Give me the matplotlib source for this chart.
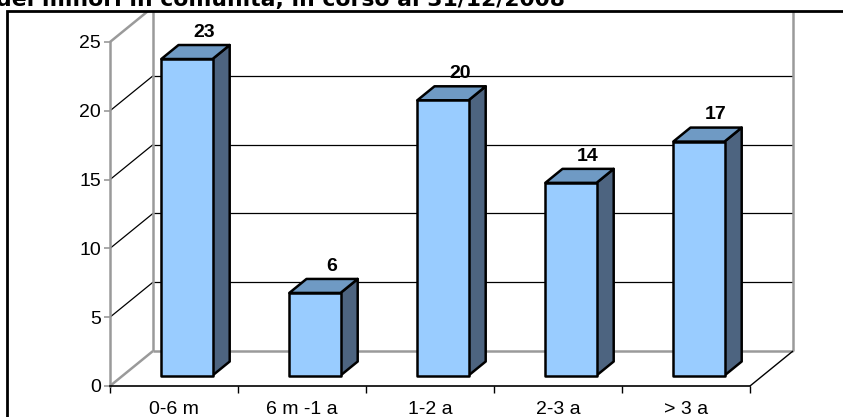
import numpy as np
import matplotlib.pyplot as plt
from matplotlib.patches import Polygon, Rectangle

plt.rcParams.update({
    "font.family": ["Liberation Sans", "DejaVu Sans"],
    "font.size": 14,
})

categories = ["0-6 m", "6 m -1 a", "1-2 a", "2-3 a", "> 3 a"]
values = [23, 6, 20, 14, 17]
yticks = [0, 5, 10, 15, 20, 25]
title = "dei minori in comunità, in corso al 31/12/2008"

col_front = "#99ccff"
col_top = "#6f9ac4"
col_side = "#4d6480"
col_wall = "#9a9a9a"

W, H = 843, 417
fig = plt.figure(figsize=(W / 100, H / 100), dpi=100)
ax = fig.add_axes([110 / W, 31 / H, 640 / W, 344 / H])
ax.set_xlim(0, len(categories))
ax.set_ylim(0, 25)

# oblique depth of the pseudo-3d box, in data units
DX = 43 / 128
DY = 35 / (344 / 25)
f0, f1 = 0.3, 0.7
half = 0.2

def off(x, y, f):
    return (x + f * DX, y + f * DY)

# frame round the whole chart (right and bottom fall outside), also used as clip
frame = Rectangle((7 / W, -0.1), 1.2, 1.1 - 11 / H, transform=fig.transFigure,
                  fill=False, ec="black", lw=2)
fig.add_artist(frame)

def line(xs, ys, **kw):
    ln, = ax.plot(xs, ys, clip_on=True, solid_capstyle="butt", **kw)
    ln.set_clip_path(frame)
    return ln

n = len(categories)
# back wall and side wall
for v in yticks[1:-1]:
    line([DX, n + DX], [v + DY, v + DY], color="black", lw=0.9, zorder=1)
    line([0, DX], [v, v + DY], color="black", lw=0.9, zorder=1)
line([DX, n + DX], [DY, DY], color=col_wall, lw=1.8, zorder=1)
line([0, DX], [0, DY], color=col_wall, lw=1.8, zorder=1)
line([0, DX], [25, 25 + DY], color=col_wall, lw=1.8, zorder=1)
line([DX, DX], [DY, 25 + DY], color=col_wall, lw=1.8, zorder=1)
line([n + DX, n + DX], [DY, 25 + DY], color=col_wall, lw=1.8, zorder=1)
line([n, n + DX], [0, DY], color="black", lw=1.0, zorder=1)

# bars
for i, v in enumerate(values):
    c = i + 0.5
    l, r = c - half, c + half
    front = [off(l, 0, f0), off(r, 0, f0), off(r, v, f0), off(l, v, f0)]
    top = [off(l, v, f0), off(r, v, f0), off(r, v, f1), off(l, v, f1)]
    side = [off(r, 0, f0), off(r, 0, f1), off(r, v, f1), off(r, v, f0)]
    for pts, fc in [(side, col_side), (top, col_top), (front, col_front)]:
        ax.add_patch(Polygon(pts, closed=True, fc=fc, ec="black", lw=1.8,
                             joinstyle="round", zorder=3, clip_on=False))
    lx, ly = off(c, v, f1)
    ax.annotate(str(v), (lx, ly), xytext=(0, 3), textcoords="offset points",
                ha="center", va="bottom", fontweight="bold", fontsize=14,
                annotation_clip=False, zorder=4)

# axes
for s in ["top", "right"]:
    ax.spines[s].set_visible(False)
ax.spines["left"].set_color(col_wall)
ax.spines["left"].set_linewidth(1.8)
ax.spines["bottom"].set_color("black")
ax.spines["bottom"].set_linewidth(1.2)
ax.spines["left"].set_zorder(2)
ax.patch.set_visible(False)

ax.set_yticks(yticks)
ax.tick_params(axis="y", length=4.5, width=1.2, color=col_wall, pad=2)
ax.set_xticks(np.arange(n + 1))
ax.set_xticklabels([])
ax.set_xticks(np.arange(n) + 0.5, minor=True)
ax.set_xticklabels(categories, minor=True)
ax.tick_params(axis="x", which="major", length=5, width=1.0, color="black")
ax.tick_params(axis="x", which="minor", length=0, pad=11)

# title sits mostly above the picture, as in the original crop
t = fig.text(565 / W, 1 - 6 / H, title, ha="right", va="baseline",
             fontsize=16, fontweight="bold", family="DejaVu Sans")
r = fig.canvas.get_renderer()
wpx = t.get_window_extent(r).width
t.set_fontsize(16 * 567 / wpx)

fig.savefig("out.png", dpi=100)
